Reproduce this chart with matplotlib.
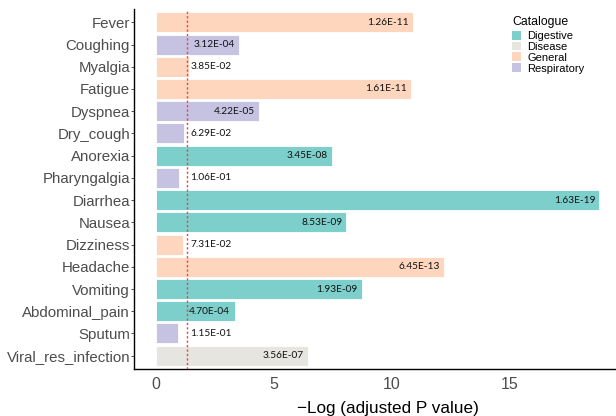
import numpy as np
import matplotlib
matplotlib.use("Agg")
import matplotlib.pyplot as plt
from matplotlib.patches import Patch

symptoms = ["Fever", "Coughing", "Myalgia", "Fatigue", "Dyspnea", "Dry_cough",
            "Anorexia", "Pharyngalgia", "Diarrhea", "Nausea", "Dizziness",
            "Headache", "Vomiting", "Abdominal_pain", "Sputum", "Viral_res_infection"]
catalogue = ["General", "Respiratory", "General", "General", "Respiratory", "Respiratory",
             "Digestive", "Respiratory", "Digestive", "Digestive", "General",
             "General", "Digestive", "Digestive", "Respiratory", "Disease"]
p_labels = ["1.26E-11", "3.12E-04", "3.85E-02", "1.61E-11", "4.22E-05", "6.29E-02",
            "3.45E-08", "1.06E-01", "1.63E-19", "8.53E-09", "7.31E-02",
            "6.45E-13", "1.93E-09", "4.70E-04", "1.15E-01", "3.56E-07"]
cat_order = ["Digestive", "Disease", "General", "Respiratory"]
cat_colors = {"Digestive": "#7DCFCB", "Disease": "#E6E5E0",
              "General": "#FDD6BD", "Respiratory": "#C6C2E2"}

values = -np.log10(np.array([float(s) for s in p_labels]))

W, H = 616, 416
fig = plt.figure(figsize=(W / 100, H / 100), dpi=100)
ax_left, ax_top, ax_bottom = 134, 9, 369
ax = fig.add_axes([ax_left / W, 1 - ax_bottom / H, 1 - ax_left / W, (ax_bottom - ax_top) / H])

n = len(symptoms)
ypos = np.arange(n)
ax.barh(ypos, values, height=0.9, color=[cat_colors[c] for c in catalogue],
        edgecolor="white", linewidth=0.6, zorder=2)
ax.axvline(-np.log10(0.05), color="#E8453C", linestyle=(0, (1.6, 1.6)), linewidth=1.0, zorder=3)

for y, v, lab in zip(ypos, values, p_labels):
    if v < 2:
        ax.text(1.45, y, lab, ha="left", va="center", fontsize=7.3, family="Lato",
                color="#111111", zorder=4)
    else:
        ax.text(v - 0.18, y, lab, ha="right", va="center", fontsize=7.3, family="Lato",
                color="#111111", zorder=4)

ax.set_ylim(n - 0.4, -0.6)
ax.set_xlim(-0.93, 19.49)
ax.set_yticks(ypos)
ax.set_yticklabels(symptoms, fontsize=10.8, color="#4D4D4D", family="Liberation Sans")
ax.set_xticks([0, 5, 10, 15])
ax.set_xticklabels(["0", "5", "10", "15"], fontsize=11.5, color="#4D4D4D", family="Liberation Sans")
ax.tick_params(axis="y", length=2, width=0.6, color="#333333", pad=0.8)
ax.tick_params(axis="x", length=0, pad=5.5)
ax.set_xlabel("\u2212Log (adjusted P value)", fontsize=12.3, family="Liberation Sans",
              color="black", va="top")
ax.xaxis.set_label_coords((387.5 - ax_left) / (W - ax_left), -(401 - ax_bottom) / (ax_bottom - ax_top))
for s in ["top", "right"]:
    ax.spines[s].set_visible(False)
for s in ["left", "bottom"]:
    ax.spines[s].set_linewidth(1.0)
    ax.spines[s].set_color("black")

handles = [Patch(facecolor=cat_colors[c], edgecolor="none", label=c) for c in cat_order]
leg = fig.legend(handles=handles, title="Catalogue", loc="upper left",
                 bbox_to_anchor=(512 / W, 1 - 16 / H), bbox_transform=fig.transFigure,
                 frameon=False, prop={"family": "Liberation Sans", "size": 8.0},
                 title_fontproperties={"family": "Liberation Sans", "size": 8.8},
                 handlelength=0.85, handleheight=0.85, handletextpad=0.5,
                 labelspacing=0.05, borderpad=0, borderaxespad=0)
leg._legend_box.align = "left"
leg._legend_box.sep = 2

fig.savefig("out.png", dpi=100)
